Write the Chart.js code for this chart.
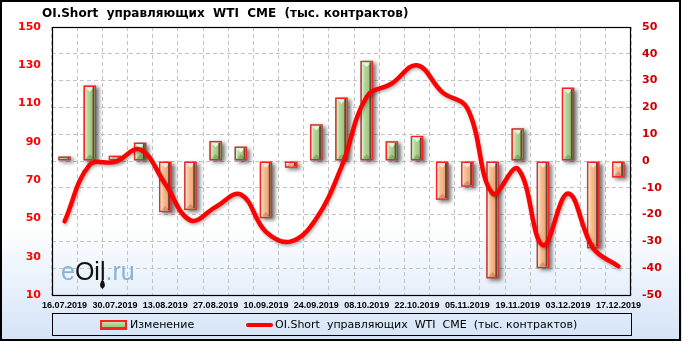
<!DOCTYPE html>
<html><head><meta charset="utf-8">
<script src="https://cdn.jsdelivr.net/npm/chart.js@4/dist/chart.umd.min.js"></script>
<style>html,body{margin:0;padding:0;background:#fff}#wrap{width:682px;height:341px;position:relative}</style>
</head><body><div id="wrap"><canvas id="c" width="682" height="341"></canvas></div>
<script>
const dates = ['16.07.2019','23.07.2019','30.07.2019','06.08.2019','13.08.2019','20.08.2019','27.08.2019','03.09.2019','10.09.2019','17.09.2019','24.09.2019','01.10.2019','08.10.2019','15.10.2019','22.10.2019','29.10.2019','05.11.2019','12.11.2019','19.11.2019','26.11.2019','03.12.2019','10.12.2019','17.12.2019'];
const changeValues = [1.7, 28.2, 2.0, 6.9, -19.1, -18.3, 7.5, 5.4, -21.4, -2.5, 13.7, 23.7, 37.4, 7.4, 9.4, -14.5, -9.6, -43.8, 12.2, -40.0, 27.4, -32.6, -6.2];
const oiShortValues = [48.5, 78, 79.5, 86, 68, 49, 56, 62.5, 43, 38, 50, 77, 113.5, 120.5, 130, 116, 107.5, 63, 76, 36, 63, 34.5, 25];
const titleText = 'OI.Short  управляющих  WTI  CME  (тыс. контрактов)';
const changeLabel = 'Изменение';
const oiLabel = 'OI.Short  управляющих  WTI  CME  (тыс. контрактов)';
const watermarkParts = ['e', 'Oil', '.ru'];

const BAR_IDX = 1, LINE_IDX = 0;

const decor = {
  id: 'decor',
  beforeDraw(chart) {
    const ctx = chart.ctx, W = chart.width, H = chart.height;
    ctx.save();
    const g = ctx.createLinearGradient(0, 0, 0, H);
    g.addColorStop(0, '#ffffff');
    g.addColorStop(0.66, '#ffffff');
    g.addColorStop(1, '#d4e4f7');
    ctx.fillStyle = g;
    ctx.fillRect(0, 0, W, H);
    ctx.restore();
  },
  beforeDatasetsDraw(chart) {
    const ctx = chart.ctx;
    ctx.save();
    ctx.font = '25px "Liberation Sans"';
    ctx.textBaseline = 'alphabetic';
    let x = 61; const y = 280;
    const cols = ['#86b3dc', '#111111', '#86b3dc'];
    watermarkParts.forEach((p, i) => {
      ctx.fillStyle = cols[i];
      ctx.fillText(p, x, y);
      if (i === 1) {
        // drop under the "l"
        const lx = x + ctx.measureText(p).width - 3;
        ctx.fillStyle = '#111';
        ctx.beginPath();
        ctx.moveTo(lx, y - 1);
        ctx.quadraticCurveTo(lx + 5, y + 6, lx, y + 9);
        ctx.quadraticCurveTo(lx - 5, y + 6, lx, y - 1);
        ctx.fill();
      }
      x += ctx.measureText(p).width;
    });
    ctx.restore();
  },
  beforeDatasetDraw(chart, args) {
    if (args.index !== BAR_IDX) {
      const ctx = chart.ctx;
      ctx.save();
      ctx.shadowColor = 'rgba(0,0,0,0.28)';
      ctx.shadowBlur = 3;
      ctx.shadowOffsetX = 1;
      ctx.shadowOffsetY = 2;
      return;
    }
    const ctx = chart.ctx;
    const meta = chart.getDatasetMeta(BAR_IDX);
    ctx.save();
    meta.data.forEach(el => {
      const w = el.width, l = el.x - w / 2;
      const t = Math.min(el.y, el.base), h = Math.abs(el.base - el.y);
      ctx.save();
      ctx.shadowColor = 'rgba(0,0,0,0.55)';
      ctx.shadowBlur = 4;
      ctx.shadowOffsetX = 3;
      ctx.shadowOffsetY = 2;
      ctx.fillStyle = '#777';
      ctx.fillRect(l, t, w, h);
      ctx.restore();
    });
    ctx.restore();
  },
  afterDatasetDraw(chart, args) {
    const ctx = chart.ctx;
    if (args.index !== BAR_IDX) { ctx.restore(); return; }
    const meta = chart.getDatasetMeta(BAR_IDX);
    meta.data.forEach((el, i) => {
      const pos = changeValues[i] >= 0;
      const b = 1.5;
      const w = el.width, l = el.x - w / 2 + b, r = el.x + w / 2 - b;
      const t = Math.min(el.y, el.base) + b, bt = Math.max(el.y, el.base) - b;
      if (bt - t <= 0) return;
      const iw = r - l, ih = bt - t, cx = (l + r) / 2;
      ctx.save();
      ctx.beginPath(); ctx.rect(l, t, iw, ih); ctx.clip();
      const g = ctx.createLinearGradient(l, 0, r, 0);
      if (pos) { g.addColorStop(0, '#c9e3b6'); g.addColorStop(0.5, '#a8d08c'); g.addColorStop(1, '#8dbb70'); }
      else { g.addColorStop(0, '#fcd3b3'); g.addColorStop(0.5, '#f6b386'); g.addColorStop(1, '#e39a69'); }
      ctx.fillStyle = g;
      ctx.fillRect(l, t, iw, ih);
      const d = iw / 2;
      ctx.fillStyle = pos ? '#e6f2dc' : '#fee7d6';
      ctx.beginPath(); ctx.moveTo(l, t); ctx.lineTo(r, t); ctx.lineTo(cx, t + d); ctx.closePath(); ctx.fill();
      ctx.fillStyle = pos ? 'rgba(70,110,50,0.35)' : 'rgba(140,70,30,0.3)';
      ctx.beginPath(); ctx.moveTo(l, bt); ctx.lineTo(r, bt); ctx.lineTo(cx, bt - d); ctx.closePath(); ctx.fill();
      ctx.fillStyle = '#6b4536';
      ctx.fillRect(r - 2, t, 2, ih);
      ctx.fillStyle = 'rgba(255,255,255,0.35)';
      ctx.fillRect(l, t, 1.5, ih);
      ctx.restore();
    });
  },
  afterDraw(chart) {
    const ctx = chart.ctx, a = chart.chartArea;
    ctx.save();
    // plot border
    ctx.strokeStyle = '#000'; ctx.lineWidth = 1.2;
    ctx.strokeRect(Math.round(a.left) + 0.5, Math.round(a.top) + 0.5, Math.round(a.right - a.left) - 1, Math.round(a.bottom - a.top));
    // outer border
    ctx.lineWidth = 2;
    ctx.strokeRect(1, 1, chart.width - 3, chart.height - 2);
    // title
    ctx.fillStyle = '#000';
    ctx.font = 'bold 12px "DejaVu Sans"';
    ctx.textBaseline = 'middle';
    ctx.textAlign = 'left';
    ctx.fillText(titleText, 42, 14);
    // legend
    ctx.lineWidth = 1;
    ctx.strokeRect(52.5, 313.5, 579, 22);
    const ly = 325;
    const sg = ctx.createLinearGradient(0, ly - 5, 0, ly + 5);
    sg.addColorStop(0, '#d9ecc9'); sg.addColorStop(0.5, '#a8d08c'); sg.addColorStop(1, '#8dbb70');
    ctx.fillStyle = '#ff2020';
    ctx.fillRect(100, ly - 5, 27, 10);
    ctx.fillStyle = sg;
    ctx.fillRect(102, ly - 3, 23, 6);
    ctx.fillStyle = '#7a5a4a';
    ctx.fillRect(102, ly + 2, 23, 1);
    ctx.font = '11px "DejaVu Sans"';
    ctx.fillStyle = '#000';
    ctx.fillText(changeLabel, 130, ly);
    ctx.strokeStyle = '#ff0000'; ctx.lineWidth = 4; ctx.lineCap = 'round';
    ctx.beginPath(); ctx.moveTo(248, ly); ctx.lineTo(271, ly); ctx.stroke();
    ctx.fillText(oiLabel, 275, ly);
    ctx.restore();
  }
};

new Chart(document.getElementById('c'), {
  data: {
    labels: dates,
    datasets: [
      {
        type: 'line', label: oiLabel, data: oiShortValues, yAxisID: 'y',
        borderColor: '#ff0000', borderWidth: 4.5, pointRadius: 0, tension: 0.4,
        fill: false, order: 0, borderCapStyle: 'round'
      },
      {
        type: 'bar', label: changeLabel, data: changeValues, yAxisID: 'y1',
        backgroundColor: changeValues.map(v => v >= 0 ? '#a8d08c' : '#f6b386'),
        borderColor: '#ff2020', borderWidth: 1.5, borderSkipped: false,
        barPercentage: 0.5, categoryPercentage: 1, order: 1
      }
    ]
  },
  options: {
    responsive: false, animation: false, devicePixelRatio: 1,
    layout: { padding: { top: 27, bottom: 26, left: 0, right: 0 } },
    plugins: { legend: { display: false }, title: { display: false }, tooltip: { enabled: false } },
    scales: {
      x: {
        type: 'category', offset: true,
        grid: { offset: true, color: '#c4c4c4', lineWidth: 1, drawTicks: false },
        border: { display: false, dash: [4, 3] },
        ticks: {
          autoSkip: false, maxRotation: 0, minRotation: 0, padding: 5,
          color: '#000', font: { family: 'Liberation Sans', size: 9, weight: 'bold' },
          callback(value, index) { return index % 2 === 0 ? dates[index] : ''; }
        },
        afterFit(s) { s.height = 20; }
      },
      y: {
        position: 'left', min: 10, max: 150,
        grid: { display: false, drawTicks: false },
        border: { display: false },
        ticks: { stepSize: 20, padding: 11, color: '#ff0000', font: { family: 'DejaVu Sans', size: 11, weight: 'bold' } },
        afterFit(s) { s.width = 52; }
      },
      y1: {
        position: 'right', min: -50, max: 50,
        grid: { color: '#c4c4c4', lineWidth: 1, drawTicks: false },
        border: { display: false, dash: [4, 3] },
        ticks: { stepSize: 10, padding: 11, color: '#cc0000', font: { family: 'DejaVu Sans', size: 11, weight: 'bold' } },
        afterFit(s) { s.width = 51; }
      }
    }
  },
  plugins: [decor]
});
</script></body></html>
